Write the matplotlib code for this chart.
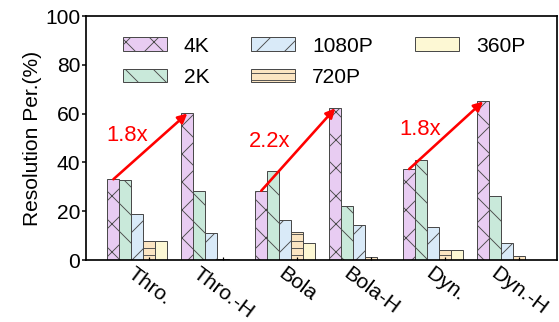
import numpy as np
import matplotlib
matplotlib.use("Agg")
import matplotlib.pyplot as plt

DPI = 84  # lower dpi gives the denser hatch spacing of the original


def px(v):
    # pixel size -> points at our dpi
    return v * 72.0 / DPI


plt.rcParams.update({
    "font.family": ["Liberation Sans", "DejaVu Sans"],
    "hatch.linewidth": px(0.9),
})

# data
schemes = ["Thro.", "Thro.-H", "Bola", "Bola-H", "Dyn.", "Dyn.-H"]
res_labels = ["4K", "2K", "1080P", "720P", "360P"]
res_4k = [33.1, 60.1, 28.4, 62.2, 37.3, 65.0]
res_2k = [32.6, 28.1, 36.6, 22.1, 41.2, 26.4]
res_1080p = [19.0, 10.9, 16.4, 14.2, 13.4, 6.8]
res_720p = [7.9, 0.6, 11.5, 1.1, 4.1, 1.5]
res_360p = [7.9, 0.0, 6.8, 0.0, 4.1, 0.0]
gain_labels = ["1.8x", "2.2x", "1.8x"]

COLORS = ["#e8ccf2", "#c9e9da", "#d9eaf8", "#fbe5c2", "#fdf8d4"]
HATCHES = ["x", "\\", "/", "--", ""]
EDGE = "#4a4a4a"
FS = px(21)

series = [res_4k, res_2k, res_1080p, res_720p, res_360p]

fig = plt.figure(figsize=(559 / DPI, 322 / DPI), dpi=DPI)
ax = fig.add_axes([0.154, 0.1925, 0.842, 0.7575])

x = np.arange(len(schemes))
width = 0.162
for k, (vals, lab) in enumerate(zip(series, res_labels)):
    ax.bar(x + (k - 3) * width, vals, width, label=lab,
           color=COLORS[k], edgecolor=EDGE, linewidth=px(1.0), hatch=HATCHES[k])

# gain arrows between base scheme and -H variant (4K share)
text_pos = [(-0.30, 51.0), (1.63, 48.6), (3.66, 53.5)]
for j, lab in enumerate(gain_labels):
    i0, i1 = 2 * j, 2 * j + 1
    xs = -3 * width
    ax.annotate("", xy=(i1 + xs, res_4k[i1]), xytext=(i0 + xs, res_4k[i0]),
                arrowprops=dict(arrowstyle="-|>", color="red", lw=px(2.6),
                                mutation_scale=px(19), shrinkA=0, shrinkB=0))
    ax.text(text_pos[j][0], text_pos[j][1], lab, color="red", fontsize=px(22),
            ha="center", va="center")

ax.set_xlim(-0.855, 5.51)
ax.set_ylim(0, 100)
ax.set_yticks([0, 20, 40, 60, 80, 100])
ax.set_xticks(x)
ax.set_xticklabels(schemes, rotation=-37, ha="center", va="top", fontsize=FS)
ax.tick_params(axis="y", labelsize=FS, direction="out", length=px(4),
               width=px(1.5), pad=px(2))
ax.tick_params(axis="x", direction="in", length=px(3), width=px(1.2), pad=px(4))
ax.set_ylabel("Resolution Per.(%)", fontsize=FS, labelpad=px(3))
for s in ax.spines.values():
    s.set_linewidth(px(1.7))

ax.legend(ncol=3, loc="upper left", bbox_to_anchor=(0.06, 0.95), frameon=False,
          fontsize=FS, handlelength=2.1, handleheight=0.62,
          handletextpad=0.8, columnspacing=2.0, labelspacing=0.59,
          borderaxespad=0)

fig.savefig("out.png", dpi=DPI)
